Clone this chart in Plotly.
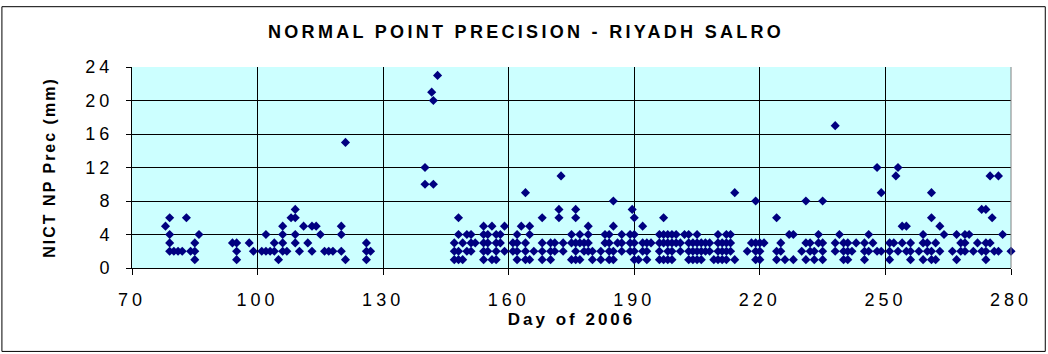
import plotly.graph_objects as go

# Normal point precision (mm) per day of 2006, grouped by precision level
days_1mm = [85, 95, 105, 121, 126, 147, 148, 149, 154, 156, 157, 162, 164, 165,
            168, 170, 175, 176, 177, 180, 182, 184, 185, 190, 191, 193,
            196, 197, 198, 199, 203, 204, 205, 206, 209, 210, 211, 212, 214,
            219, 220, 224, 226, 228, 231, 233, 235, 240, 241, 245,
            251, 256, 259, 261, 262, 267, 274]
days_2mm = [79, 80, 81, 82, 84, 85, 95, 99, 101, 102, 103, 104, 106, 107, 110, 113,
            116, 117, 118, 120, 126, 127, 147, 148, 150, 151, 154, 155, 157, 159,
            161, 162, 164, 166, 168, 170, 171, 173,
            176, 178, 179, 180, 182, 184, 185, 187, 189, 190, 192, 193,
            196, 198, 199, 201, 203, 204, 205, 206, 207, 208, 210, 211, 212, 213,
            217, 219, 220, 224, 225, 230, 232, 233, 235, 238, 240, 241, 242, 245, 246,
            248, 249, 251, 253, 255, 256, 258, 260, 261, 263, 266, 268, 269, 271,
            273, 274, 276, 277, 280]
days_3mm = [79, 85, 94, 95, 98, 104, 106, 109, 112, 126,
            147, 149, 151, 152, 154, 155, 157, 158, 161, 162, 164,
            168, 170, 171, 173, 175, 176, 177, 178, 179, 183, 184, 186, 187,
            189, 190, 192, 193, 194,
            196, 197, 198, 199, 200, 201, 203, 204, 205, 206, 207, 208, 210, 211, 212, 213,
            218, 219, 220, 221, 225, 231, 232, 234, 235, 238, 240, 241, 243, 245,
            247, 251, 252, 254, 256, 259, 260, 262, 268, 269, 272, 274, 275]
days_4mm = [79, 86, 102, 106, 109, 115, 120, 148, 150, 151, 154, 155, 157, 158,
            162, 165, 175, 177, 179, 183, 184, 187, 189, 190,
            196, 197, 198, 199, 200, 202, 203, 205, 210, 212, 213,
            227, 228, 234, 239, 246, 259, 264, 267, 269, 270, 278]
days_5mm = [78, 106, 111, 113, 114, 120, 154, 156, 159, 163, 165, 179, 185, 192,
            254, 255, 263]
days_6mm = [79, 83, 108, 109, 148, 168, 172, 176, 190, 197, 224, 261, 275.5]
days_7mm = [109, 172, 176, 189.5, 273, 274]

# Isolated larger values
outlier_days = [121, 140, 140, 142, 142, 141.6, 143, 164, 172.5, 185, 214, 219,
                231, 235, 238, 248, 249, 252.5, 253, 261, 275, 277]
outlier_prec = [15, 12, 10, 10, 20, 21, 23, 9, 11, 8, 9, 8,
                8, 8, 17, 12, 9, 11, 12, 9, 11, 11]

x_ticks = [70, 100, 130, 160, 190, 220, 250, 280]
y_ticks = [0, 4, 8, 12, 16, 20, 24]

levels = [(1, days_1mm), (2, days_2mm), (3, days_3mm), (4, days_4mm),
          (5, days_5mm), (6, days_6mm), (7, days_7mm)]
x_vals, y_vals = [], []
for level, days in levels:
    x_vals += days
    y_vals += [level] * len(days)
x_vals += outlier_days
y_vals += outlier_prec

font = "Liberation Sans, Arial, sans-serif"

fig = go.Figure(go.Scatter(
    x=x_vals, y=y_vals, mode="markers", cliponaxis=False,
    marker=dict(symbol="diamond", size=7, color="#000080",
                line=dict(width=0)),
    hoverinfo="x+y",
))

fig.update_layout(
    width=1048, height=354,
    margin=dict(l=132, r=37, t=67, b=86),
    paper_bgcolor="white",
    plot_bgcolor="#CCFFFF",
    showlegend=False,
    title=dict(text="<b>NORMAL POINT PRECISION - RIYADH SALRO</b>",
               x=0.502, xref="container", xanchor="center",
               y=0.911, yref="container", yanchor="middle",
               font=dict(family=font, size=18, color="black")),
    font=dict(family=font, color="black"),
)

fig.update_xaxes(
    range=[70, 280], tickvals=x_ticks, ticks="outside", ticklen=6,
    tickcolor="black", tickfont=dict(size=18), ticklabelstandoff=9,
    showgrid=True, gridcolor="black", gridwidth=1,
    showline=True, linecolor="black", linewidth=1, mirror=False,
    zeroline=False,
    title=dict(text="<b>Day of 2006</b>", font=dict(size=17), standoff=4),
)
fig.update_yaxes(
    range=[0, 24], tickvals=y_ticks, ticks="outside", ticklen=5,
    tickcolor="black", tickfont=dict(size=18), ticklabelstandoff=9,
    showgrid=True, gridcolor="black", gridwidth=1,
    showline=True, linecolor="black", linewidth=1,
    zeroline=False,
    title=dict(text="<b>NICT NP Prec (mm)</b>", font=dict(size=16), standoff=33),
)

# grey plot-area border on the right and a thin frame round the chart
fig.add_shape(type="line", xref="paper", yref="paper", x0=1, x1=1, y0=0, y1=1,
              line=dict(color="#808080", width=1))
fig.add_shape(type="rect", xref="paper", yref="paper",
              x0=-0.148, x1=1.039, y0=-0.415, y1=1.30,
              line=dict(color="black", width=1), layer="below")

spacing_js = """
var gd = document.getElementById('{plot_id}');
function spread() {
  gd.querySelectorAll('.gtitle').forEach(function(t){ t.setAttribute('letter-spacing','3.3px'); });
  gd.querySelectorAll('.xtitle').forEach(function(t){ t.setAttribute('letter-spacing','3px'); });
  gd.querySelectorAll('.ytitle').forEach(function(t){ t.setAttribute('letter-spacing','2px'); });
  gd.querySelectorAll('.xtick text, .ytick text').forEach(function(t){ t.setAttribute('letter-spacing','4px'); });
}
spread();
gd.on('plotly_afterplot', spread);
"""

fig.write_html("out.html", post_script=spacing_js)
